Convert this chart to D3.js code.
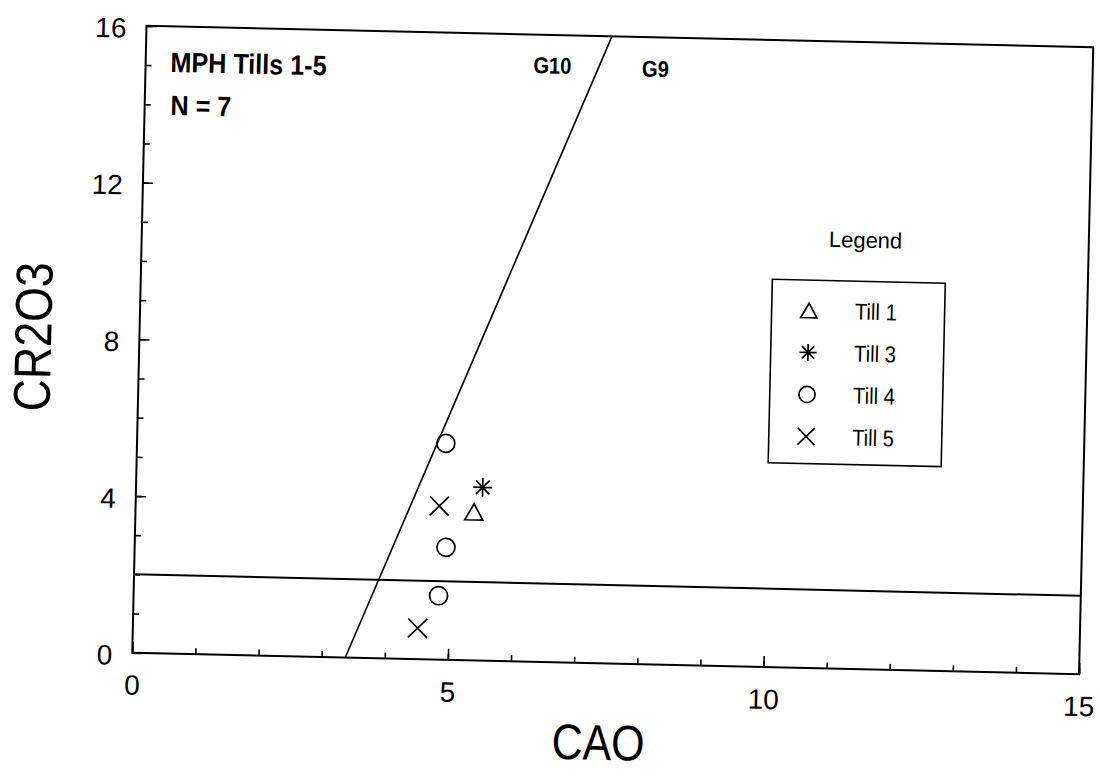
<!DOCTYPE html>
<html>
<head>
<meta charset="utf-8">
<script src="https://cdn.jsdelivr.net/npm/d3@7"></script>
<style>
  html, body { margin: 0; padding: 0; background: #fff; }
  svg { display: block; font-family: "Liberation Sans", Arial, sans-serif; }
</style>
</head>
<body>
<svg id="chart" width="1100" height="778"></svg>
<script>
// datos (CAO, CR2O3)
const till1 = [[5.36, 3.79]];
const till3 = [[5.49, 4.42]];
const till4 = [[4.89, 5.52], [4.93, 2.87], [4.83, 1.63]];
const till5 = [[4.81, 3.92], [4.51, 0.79]];

// líneas de referencia G10 / G9 y Cr2O3 = 2
const g10Line = [[3.375, 0], [7.375, 16]];
const crLine  = [[0, 2], [15, 2]];

const xDomain = [0, 15];
const yDomain = [0, 16];
const xTicks = [0, 5, 10, 15];
const yTicks = [0, 4, 8, 12, 16];
const xMinor = d3.range(0, 16, 1);
const yMinor = d3.range(0, 17, 1);

const legendNames = ["Till 1", "Till 3", "Till 4", "Till 5"];
const legendSymbols = ["triangle", "asterisk", "circle", "cross"];

const svg = d3.select("#chart");
const margin = { left: 139.25, right: 1086.25, top: 36.5, bottom: 663.5 };

// el original está escaneado con un leve giro
const g = svg.append("g").attr("transform", "rotate(1.3, 612.75, 350)");

const x = d3.scaleLinear().domain(xDomain).range([margin.left, margin.right]);
const y = d3.scaleLinear().domain(yDomain).range([margin.bottom, margin.top]);

// marco
g.append("rect")
  .attr("x", margin.left).attr("y", margin.top)
  .attr("width", margin.right - margin.left)
  .attr("height", margin.bottom - margin.top)
  .attr("fill", "none").attr("stroke", "#000").attr("stroke-width", 2);

// ejes: menores y mayores, marcas hacia dentro
g.append("g").attr("transform", `translate(0,${margin.bottom})`)
  .call(d3.axisBottom(x).tickValues(xMinor).tickSize(-6).tickFormat(""))
  .call(s => s.select(".domain").remove());
g.append("g").attr("class", "xaxis").attr("transform", `translate(0,${margin.bottom})`)
  .call(d3.axisBottom(x).tickValues(xTicks).tickSize(-11).tickPadding(22).tickFormat(d3.format("d")))
  .call(s => s.select(".domain").remove());
g.append("g").attr("transform", `translate(${margin.left},0)`)
  .call(d3.axisLeft(y).tickValues(yMinor).tickSize(-6).tickFormat(""))
  .call(s => s.select(".domain").remove());
g.append("g").attr("class", "yaxis").attr("transform", `translate(${margin.left},0)`)
  .call(d3.axisLeft(y).tickValues(yTicks).tickSize(-10).tickPadding(20).tickFormat(d3.format("d")))
  .call(s => s.select(".domain").remove());

g.selectAll(".tick line").attr("stroke", "#000").attr("stroke-width", 1.6);
g.selectAll(".xaxis text, .yaxis text")
  .attr("font-size", 28).attr("font-family", "Liberation Sans, Arial, sans-serif")
  .attr("fill", "#000");
g.selectAll(".yaxis text").attr("dy", "0.42em");

// líneas de referencia
const line = d3.line().x(d => x(d[0])).y(d => y(d[1]));
g.append("path").datum(g10Line).attr("d", line)
  .attr("fill", "none").attr("stroke", "#000").attr("stroke-width", 1.6);
g.append("path").datum(crLine).attr("d", line)
  .attr("fill", "none").attr("stroke", "#000").attr("stroke-width", 2);

// símbolos
function symbol(sel, type, s) {
  const st = { fill: "none", stroke: "#000", "stroke-width": 1.7 };
  let el;
  if (type === "circle") {
    el = sel.append("circle").attr("r", s * 0.95);
  } else if (type === "triangle") {
    el = sel.append("path").attr("d", `M0,${-s * 0.85}L${s * 0.95},${s * 0.85}L${-s * 0.95},${s * 0.85}Z`);
  } else if (type === "cross") {
    el = sel.append("path").attr("d", `M${-s},${-s}L${s},${s}M${-s},${s}L${s},${-s}`);
  } else {
    const d = s * 0.72;
    el = sel.append("path").attr("d",
      `M0,${-s}L0,${s}M${-s},0L${s},0M${-d},${-d}L${d},${d}M${-d},${d}L${d},${-d}`);
  }
  Object.entries(st).forEach(([k, v]) => el.attr(k, v));
}

const series = [
  { data: till1, type: "triangle" },
  { data: till3, type: "asterisk" },
  { data: till4, type: "circle" },
  { data: till5, type: "cross" }
];
series.forEach(sr => {
  sr.data.forEach(p => {
    const m = g.append("g").attr("transform", `translate(${x(p[0])},${y(p[1])})`);
    symbol(m, sr.type, 9.5);
  });
});

// texto estrecho (fuente condensada del original)
function narrowText(px, py, txt, size, opts = {}) {
  const t = g.append("g")
    .attr("transform", `translate(${px},${py}) rotate(${opts.rot || 0}) scale(${opts.sx || 0.88},1)`)
    .append("text")
    .attr("font-size", size)
    .attr("font-weight", opts.bold ? "bold" : "normal")
    .attr("text-anchor", opts.anchor || "start")
    .attr("fill", "#000")
    .text(txt);
  return t;
}

narrowText(164, 82, "MPH Tills 1-5", 28, { bold: true, sx: 0.9 });
narrowText(165, 125, "N = 7", 28, { bold: true, sx: 0.9 });
narrowText(546, 75, "G10", 23, { bold: true, anchor: "middle", sx: 0.88 });
narrowText(649, 76, "G9", 23, { bold: true, anchor: "middle", sx: 0.88 });

// títulos de ejes
narrowText(607, 760, "CAO", 50, { anchor: "middle", sx: 0.86 });
narrowText(51, 350, "CR2O3", 52, { anchor: "middle", rot: -90, sx: 0.86 });

// leyenda
narrowText(863, 242, "Legend", 22, { anchor: "middle", sx: 1 });
g.append("rect")
  .attr("x", 770.7).attr("y", 275.7).attr("width", 173).attr("height", 183.5)
  .attr("fill", "none").attr("stroke", "#000").attr("stroke-width", 1.6);
legendNames.forEach((name, i) => {
  const cy = 306 + i * 42;
  const m = g.append("g").attr("transform", `translate(808,${cy})`);
  symbol(m, legendSymbols[i], 8.5);
  narrowText(854, cy + 8, name, 23, { sx: 0.88 });
});
</script>
</body>
</html>
